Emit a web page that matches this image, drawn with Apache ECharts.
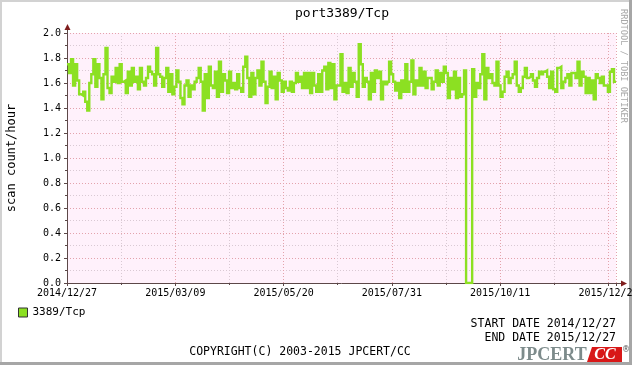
<!DOCTYPE html>
<html>
<head>
<meta charset="utf-8">
<script src="https://cdn.jsdelivr.net/npm/echarts@6/dist/echarts.min.js"></script>
<style>
html,body{margin:0;padding:0;background:#fff;}
#chart{width:632px;height:365px;}
</style>
</head>
<body>
<div id="chart"></div>
<script>
// ---- data ----
const chartTitle = 'port3389/Tcp';
const seriesName = '3389/Tcp';
const yAxisTitle = 'scan count/hour';
const dateLabels = ['2014/12/27', '2015/03/09', '2015/05/20', '2015/07/31', '2015/10/11', '2015/12/22'];
const totalDays = 365;
const labelStepDays = 72;
const startDate = '2014/12/27';
const endDate = '2015/12/27';
// scan count/hour, consolidated samples evenly spread over the year
const scanCounts = [
  1.75,1.68,1.79,1.58,1.75,1.62,1.51,1.50,1.53,1.45,1.38,1.60,1.67,1.79,1.57,1.75,1.64,1.47,1.67,1.88,
  1.56,1.52,1.65,1.61,1.72,1.60,1.75,1.61,1.62,1.52,1.69,1.58,1.72,1.61,1.65,1.55,1.72,1.61,1.58,1.64,1.73,
  1.69,1.67,1.58,1.88,1.67,1.65,1.57,1.64,1.72,1.53,1.67,1.51,1.57,1.70,1.61,1.48,1.43,1.58,1.62,1.49,
  1.58,1.55,1.61,1.64,1.72,1.61,1.38,1.67,1.48,1.73,1.58,1.56,1.69,1.49,1.77,1.53,1.67,1.62,1.52,1.69,
  1.56,1.60,1.55,1.67,1.56,1.53,1.73,
  1.81,1.64,1.49,1.68,1.51,1.64,1.70,1.58,1.77,1.61,1.44,1.57,1.69,1.56,1.65,1.47,1.68,1.62,1.53,1.61,
  1.56,1.54,1.61,1.53,1.60,1.68,1.61,1.65,1.56,1.68,1.56,1.68,1.52,1.68,1.58,1.53,1.67,1.53,1.70,1.73,
  1.55,1.76,1.56,1.75,1.47,1.58,
  1.58,1.83,1.53,1.60,1.52,1.72,1.57,1.68,1.61,1.49,1.91,1.75,1.57,1.64,1.61,1.47,1.68,1.53,1.70,1.64,
  1.69,1.47,1.61,1.59,1.61,1.77,1.67,1.61,1.54,1.60,1.48,1.62,1.53,1.75,1.53,1.61,1.78,1.51,1.62,1.58,
  1.72,1.58,1.69,1.56,1.64,
  1.64,1.55,1.61,1.70,1.58,1.68,1.61,1.73,1.68,1.48,1.64,1.55,1.69,1.48,1.64,1.49,1.51,1.70,
  0,0,0,
  1.71,1.49,1.60,1.56,1.67,1.83,1.47,1.72,1.64,1.67,1.60,1.58,1.77,1.58,1.49,1.53,1.65,1.69,1.60,1.64,
  1.67,1.77,1.58,1.53,1.56,1.65,1.72,1.64,
  1.65,1.67,1.62,1.57,1.64,1.69,1.67,1.69,1.70,1.65,1.56,1.69,1.55,1.53,1.72,1.73,1.56,1.61,1.64,1.67,
  1.58,1.68,1.68,1.64,1.77,1.58,1.69,1.65,1.52,1.64,1.52,1.62,1.47,1.67,1.64,1.60,1.65,1.58,1.58,1.53,
  1.69,1.71,1.61
];

// ---- build ----
const MONO = 'DejaVu Sans Mono';
const step = totalDays / scanCounts.length;
const lineData = scanCounts.map((v, i) => [i * step, v]);
lineData.push([totalDays, scanCounts[scanCounts.length - 1]]);

const chart = echarts.init(document.getElementById('chart'), null, {renderer: 'canvas'});
const majorGrid = '#e4a3ac';
const minorGrid = '#d9c9d3';
const axisColor = '#5c4848';
const lineColor = '#8ce022';

chart.setOption({
  animation: false,
  backgroundColor: '#ffffff',
  grid: {left: 67, right: 16, top: 33, bottom: 82, show: true, backgroundColor: '#fff1fb', borderWidth: 0,
         containLabel: false, outerBoundsMode: 'none'},
  legend: {
    data: [seriesName], left: 13, top: 302, icon: 'rect', itemWidth: 9, itemHeight: 9, itemGap: 5,
    itemStyle: {borderColor: '#333', borderWidth: 1},
    textStyle: {fontFamily: MONO, fontSize: 11, color: '#000'}
  },
  xAxis: {
    type: 'value', min: 0, max: totalDays, interval: labelStepDays,
    axisLine: {show: true, lineStyle: {color: axisColor, width: 1}},
    axisTick: {show: true, length: 3, lineStyle: {color: axisColor}},
    minorTick: {show: true, splitNumber: 2, length: 2, lineStyle: {color: axisColor}},
    axisLabel: {
      fontFamily: MONO, fontSize: 10, color: '#000', margin: 5, showMaxLabel: false, hideOverlap: false,
      formatter: v => dateLabels[Math.round(v / labelStepDays)] || ''
    },
    splitLine: {show: true, lineStyle: {color: majorGrid, type: [1, 2], width: 1}},
    minorSplitLine: {show: true, lineStyle: {color: minorGrid, type: [1, 2], width: 1}}
  },
  yAxis: {
    type: 'value', min: 0, max: 2, interval: 0.2,
    axisLine: {show: true, lineStyle: {color: axisColor, width: 1}},
    axisTick: {show: true, length: 3, lineStyle: {color: axisColor}},
    minorTick: {show: true, splitNumber: 2, length: 2, lineStyle: {color: axisColor}},
    axisLabel: {fontFamily: MONO, fontSize: 10, color: '#000', margin: 6, formatter: v => v.toFixed(1)},
    splitLine: {show: true, lineStyle: {color: majorGrid, type: [1, 2], width: 1}},
    minorSplitLine: {show: true, lineStyle: {color: minorGrid, type: [1, 2], width: 1}}
  },
  series: [{
    name: seriesName, type: 'line', step: 'end', data: lineData, showSymbol: false,
    color: lineColor, lineStyle: {color: lineColor, width: 2.4, join: 'miter'}, itemStyle: {color: lineColor},
    clip: true
  }]
});

// axis extensions + arrow heads placed through the axes
const x0 = chart.convertToPixel({xAxisIndex: 0}, 0);
const x1 = chart.convertToPixel({xAxisIndex: 0}, totalDays);
const y0 = chart.convertToPixel({yAxisIndex: 0}, 0);
const y1 = chart.convertToPixel({yAxisIndex: 0}, 2);
const arrowColor = '#7f1d1d';

chart.setOption({
  graphic: [
    // frame
    {type: 'rect', shape: {x: 0, y: 0, width: 632, height: 2}, style: {fill: '#d2d2d2'}},
    {type: 'rect', shape: {x: 0, y: 0, width: 2, height: 365}, style: {fill: '#d2d2d2'}},
    {type: 'rect', shape: {x: 629, y: 0, width: 3, height: 365}, style: {fill: '#a6a6a6'}},
    {type: 'rect', shape: {x: 0, y: 362, width: 632, height: 3}, style: {fill: '#a6a6a6'}},
    // axis extension lines
    {type: 'line', shape: {x1: x1, y1: y0 + 0.5, x2: x1 + 6, y2: y0 + 0.5}, style: {stroke: axisColor, lineWidth: 1}},
    {type: 'line', shape: {x1: x0 + 0.5, y1: y1, x2: x0 + 0.5, y2: y1 - 4}, style: {stroke: axisColor, lineWidth: 1}},
    {type: 'polygon', shape: {points: [[x1 + 11, y0 + 0.5], [x1 + 5, y0 - 2.5], [x1 + 5, y0 + 3.5]]}, style: {fill: arrowColor}},
    {type: 'polygon', shape: {points: [[x0 + 0.5, y1 - 9], [x0 - 2.5, y1 - 3], [x0 + 3.5, y1 - 3]]}, style: {fill: arrowColor}},
    // title
    {type: 'text', x: 342, y: 14, style: {text: chartTitle, font: '13px "' + MONO + '"', fill: '#000', align: 'center', verticalAlign: 'middle'}},
    // y axis title
    {type: 'text', x: 12, y: 158, rotation: Math.PI / 2, style: {text: yAxisTitle, font: '12px "' + MONO + '"', fill: '#000', align: 'center', verticalAlign: 'middle'}},
    // rrdtool watermark
    {type: 'text', x: 623, y: 66, rotation: -Math.PI / 2, style: {text: 'RRDTOOL / TOBI OETIKER', font: '8.6px "' + MONO + '"', fill: '#a8a8a8', align: 'center', verticalAlign: 'middle'}},
    // dates
    {type: 'text', x: 616, y: 324, style: {text: 'START DATE ' + startDate, font: '11.5px "' + MONO + '"', fill: '#000', align: 'right', verticalAlign: 'middle'}},
    {type: 'text', x: 616, y: 338, style: {text: 'END DATE ' + endDate, font: '11.5px "' + MONO + '"', fill: '#000', align: 'right', verticalAlign: 'middle'}},
    {type: 'text', x: 300, y: 352, style: {text: 'COPYRIGHT(C) 2003-2015 JPCERT/CC', font: '11.5px "' + MONO + '"', fill: '#000', align: 'center', verticalAlign: 'middle'}},
    // logo
    {type: 'text', x: 552, y: 355, style: {text: 'JPCERT', font: 'bold 18px "Liberation Serif"', fill: '#7d8b8b', align: 'center', verticalAlign: 'middle'}},
    {type: 'polygon', shape: {points: [[592, 347], [622, 347], [622, 362], [587, 362]]}, style: {fill: '#d81818'}},
    {type: 'text', x: 605, y: 355, style: {text: 'CC', font: 'italic bold 16px "Liberation Serif"', fill: '#ffffff', align: 'center', verticalAlign: 'middle'}},
    {type: 'text', x: 626, y: 350, style: {text: '®', font: '8px "DejaVu Sans"', fill: '#555', align: 'center', verticalAlign: 'middle'}}
  ]
});
</script>
</body>
</html>
